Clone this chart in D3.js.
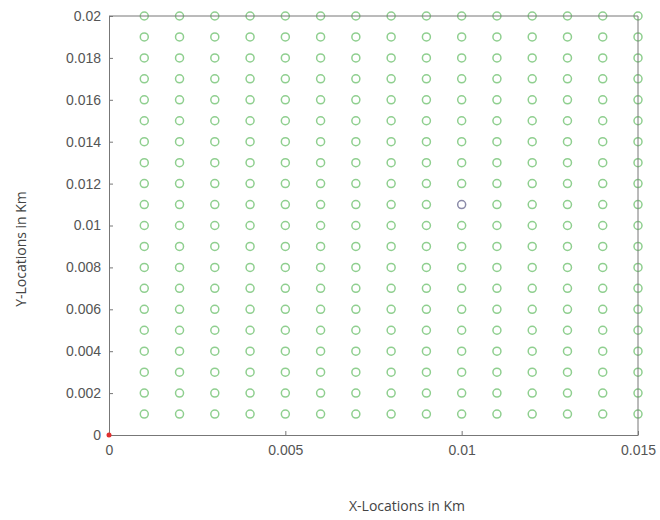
<!DOCTYPE html>
<html><head><meta charset="utf-8">
<script src="https://cdn.jsdelivr.net/npm/d3@7/dist/d3.min.js"></script>
<style>body{margin:0;background:#fff}</style>
</head><body>
<svg id="c" width="660" height="520"></svg>
<script>
const xTicks = [0, 0.005, 0.01, 0.015];
const yTicks = [0, 0.002, 0.004, 0.006, 0.008, 0.01, 0.012, 0.014, 0.016, 0.018, 0.02];
const gridX = [0.001,0.002,0.003,0.004,0.005,0.006,0.007,0.008,0.009,0.010,0.011,0.012,0.013,0.014,0.015];
const gridY = [0.001,0.002,0.003,0.004,0.005,0.006,0.007,0.008,0.009,0.010,0.011,0.012,0.013,0.014,0.015,0.016,0.017,0.018,0.019,0.020];
const specialPoint = [0.010, 0.011];
const originPoint = [0, 0];

const svg = d3.select("#c");
const L=109, R=638, T=16, B=435;
const x = d3.scaleLinear().domain([0,0.015]).range([L,R]);
const y = d3.scaleLinear().domain([0,0.02]).range([B,T]);

const pts = [];
gridX.forEach(a=>gridY.forEach(b=>{
  if (!(Math.abs(a-specialPoint[0])<1e-9 && Math.abs(b-specialPoint[1])<1e-9)) pts.push([a,b]);
}));

svg.append("g").selectAll("circle").data(pts).join("circle")
  .attr("cx",d=>x(d[0])).attr("cy",d=>y(d[1])).attr("r",4)
  .attr("fill","none").attr("stroke","#8fcf8f").attr("stroke-width",1.5);

svg.append("circle").attr("cx",x(specialPoint[0])).attr("cy",y(specialPoint[1])).attr("r",4)
  .attr("fill","none").attr("stroke","#8a8aa8").attr("stroke-width",1.5);

const fmt = d=>String(+d.toFixed(4));
const ax = svg.append("g").attr("transform",`translate(0,${B})`)
  .call(d3.axisBottom(x).tickValues(xTicks).tickFormat(fmt).tickSizeInner(-4).tickSizeOuter(0).tickPadding(10));
const ay = svg.append("g").attr("transform",`translate(${L},0)`)
  .call(d3.axisLeft(y).tickValues(yTicks).tickFormat(fmt).tickSizeInner(-4).tickSizeOuter(0).tickPadding(8));
[ax,ay].forEach(g=>{
  g.select(".domain").attr("stroke","#777");
  g.selectAll(".tick line").attr("stroke","#777");
  g.selectAll("text").attr("font-family","Liberation Sans, Arial, sans-serif").attr("font-size",14).attr("fill","#555");
});
svg.append("line").attr("x1",L).attr("x2",R).attr("y1",T).attr("y2",T).attr("stroke","#777");
svg.append("line").attr("x1",R).attr("x2",R).attr("y1",T).attr("y2",B).attr("stroke","#777");

svg.append("circle").attr("cx",x(originPoint[0])).attr("cy",y(originPoint[1])).attr("r",2.5).attr("fill","#e03030");

svg.append("text").attr("x",407).attr("y",511).attr("text-anchor","middle")
  .attr("font-family","Open Sans, sans-serif").attr("font-size",14).attr("fill","#444").text("X-Locations in Km");
svg.append("text").attr("transform","translate(26,249) rotate(-90)").attr("text-anchor","middle")
  .attr("font-family","Open Sans, sans-serif").attr("font-size",14).attr("fill","#444").text("Y-Locations in Km");
</script>
</body></html>
